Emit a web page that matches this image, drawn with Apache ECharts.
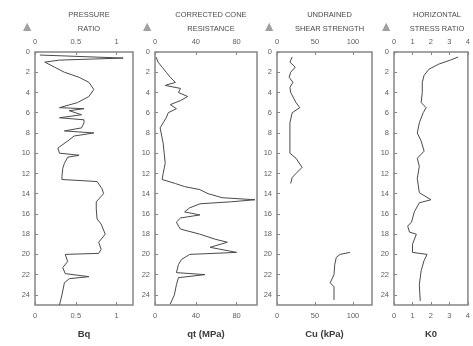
<!DOCTYPE html>
<html><head><meta charset="utf-8">
<script src="https://cdn.jsdelivr.net/npm/echarts@6/dist/echarts.min.js"></script>
<style>html,body{margin:0;padding:0;background:#fff}#c{width:473px;height:346px}</style>
</head><body><div id="c"></div>
<script>
// ---- data ----
const depthTickLabels = [0,2,4,6,8,10,12,14,16,18,20,22,24];
const panelTitles = ['PRESSURE\nRATIO', 'CORRECTED CONE\nRESISTANCE', 'UNDRAINED\nSHEAR STRENGTH', 'HORIZONTAL\nSTRESS RATIO'];
const panelUnits = ['Bq', 'qt (MPa)', 'Cu (kPa)', 'K0'];

const bqDepth = [0.3,0.6,0.8,1.0,1.5,2.0,2.5,3.0,3.7,4.4,5.0,5.5,5.6,5.8,6.2,6.5,6.7,7.0,7.5,7.8,8.0,8.3,8.8,9.2,9.5,10.0,10.2,10.4,11.0,11.5,12.3,12.6,12.8,13.5,14.0,14.8,15.5,16.5,17.0,18.0,18.8,19.5,19.9,20.0,20.7,21.3,21.9,22.2,22.4,22.8,24.0,25.0];
const bqValue = [0.06,1.08,0.30,0.12,0.24,0.36,0.54,0.66,0.72,0.66,0.52,0.30,0.60,0.42,0.57,0.30,0.60,0.60,0.57,0.36,0.72,0.48,0.40,0.33,0.28,0.30,0.54,0.40,0.36,0.34,0.33,0.33,0.76,0.82,0.84,0.75,0.75,0.76,0.81,0.86,0.78,0.81,0.78,0.37,0.40,0.34,0.37,0.66,0.42,0.36,0.33,0.30];

const qtDepth = [0.5,1.0,1.5,2.0,2.5,3.0,3.3,3.6,4.0,4.4,4.8,5.2,5.6,6.0,6.5,7.0,7.5,8.0,9.0,10.0,11.0,12.0,12.6,13.0,13.3,13.6,14.0,14.4,14.6,14.8,15.0,15.4,15.8,16.1,16.4,16.8,17.2,17.5,18.0,18.5,18.8,19.3,19.8,20.0,20.5,21.0,21.8,22.0,22.3,23.0,24.0,24.9];
const qtValue = [1,3,7,11,15,20,10,25,23,32,25,15,21,13,11,8,5,6,8,9,10,8,7,20,29,44,52,66,98,75,44,34,29,44,25,21,23,25,44,59,71,54,80,34,26,23,21,49,23,21,19,15];

const cuDepth = [0.5,1.0,1.5,2.0,2.5,3.0,3.5,4.0,5.0,5.5,6.0,7.0,8.0,9.0,10.0,10.5,11.4,12.0,12.4,13.0,13.2,19.8,20.0,20.3,21.0,22.0,22.8,23.2,24.5];
const cuValue = [20,17,24,18,16,21,17,18,25,30,20,17,17,17,17,25,33,25,20,18,null,96,83,78,76,75,70,75,75];

const k0Depth = [0.5,0.8,1.2,1.7,2.3,3.0,4.0,5.0,5.5,6.0,7.0,8.0,8.8,9.8,10.5,11.3,12.5,13.9,14.6,14.9,15.8,16.8,17.2,17.8,18.0,19.0,19.8,20.0,20.6,21.6,23.0,24.6];
const k0Value = [3.47,3.05,2.42,1.89,1.63,1.53,1.53,1.47,1.74,1.58,1.37,1.26,1.47,1.63,1.26,1.37,1.26,1.37,2.0,1.37,1.1,0.95,0.74,0.84,1.21,1.0,1.0,1.79,1.63,1.47,1.37,1.42];

const xRanges = [
  {min:0, max:1.2, interval:0.5, showMax:false},
  {min:0, max:100, interval:40, showMax:false},
  {min:0, max:125, interval:50, showMax:false},
  {min:0, max:4, interval:1, showMax:true}
];
// ---- layout ----
const grids = [
  {left:35, top:52, width:98, height:253},
  {left:155, top:52, width:102, height:253},
  {left:277, top:52, width:95, height:253},
  {left:394, top:52, width:76, height:253}
];
const FONT = 'Liberation Sans';
const lineCol = '#4a4a4a';
const frameCol = '#858585';
const labelCol = '#5e5e5e';

function pairs(d, v){ return d.map((z,i)=> v[i]==null ? [null,null] : [v[i], z]); }
const seriesData = [pairs(bqDepth,bqValue), pairs(qtDepth,qtValue), pairs(cuDepth,cuValue), pairs(k0Depth,k0Value)];

const option = {
  animation:false,
  backgroundColor:'#fff',
  textStyle:{fontFamily:FONT},
  title: grids.map((g,i)=>({
    text: panelTitles[i],
    left: g.left + g.width/2,
    top: 3,
    textAlign:'center',
    textStyle:{fontSize:7.5, fontWeight:'normal', color:'#4a4a4a', lineHeight:14, fontFamily:FONT}
  })),
  grid: grids.map(g=>Object.assign({show:true, borderColor:frameCol, borderWidth:1.5, backgroundColor:'transparent'}, g)),
  xAxis: [].concat(...grids.map((g,i)=>[
    {type:'value', gridIndex:i, position:'top', min:xRanges[i].min, max:xRanges[i].max, interval:xRanges[i].interval,
     axisLine:{show:false}, splitLine:{show:false},
     axisTick:{show:true, inside:true, length:3, lineStyle:{color:frameCol}},
     axisLabel:{fontSize:7.5, color:labelCol, margin:6, showMaxLabel:xRanges[i].showMax, fontFamily:FONT}},
    {type:'value', gridIndex:i, position:'bottom', min:xRanges[i].min, max:xRanges[i].max, interval:xRanges[i].interval,
     axisLine:{show:false}, splitLine:{show:false},
     axisTick:{show:true, inside:true, length:3, lineStyle:{color:frameCol}},
     axisLabel:{fontSize:7.5, color:labelCol, margin:7, showMaxLabel:xRanges[i].showMax, fontFamily:FONT},
     name: panelUnits[i], nameLocation:'middle', nameGap:24,
     nameTextStyle:{fontSize:9.5, fontWeight:'bold', color:'#3a3a3a', fontFamily:FONT}}
  ])),
  yAxis: grids.map((g,i)=>({
    type:'value', gridIndex:i, inverse:true, min:0, max:25, interval:2,
    axisLine:{show:false}, splitLine:{show:false},
    axisTick:{show:true, inside:true, length:3, lineStyle:{color:frameCol}},
    axisLabel:{fontSize:7.5, color:labelCol, margin:5, showMaxLabel:false, fontFamily:FONT,
      formatter:(v)=> depthTickLabels.indexOf(v) >= 0 ? String(v) : ''},
    name:'▲', nameLocation:'start', nameGap:18,
    nameTextStyle:{fontSize:14, color:'#a0a0a0', align:'right', padding:[0,1,0,0]}
  })),
  series: seriesData.map((d,i)=>({
    type:'line', xAxisIndex:i*2, yAxisIndex:i, data:d, showSymbol:false, connectNulls:false,
    lineStyle:{color:lineCol, width:1}, silent:true
  }))
};
const chart = echarts.init(document.getElementById('c'), null, {renderer:'canvas'});
chart.setOption(option);
</script>
</body></html>
